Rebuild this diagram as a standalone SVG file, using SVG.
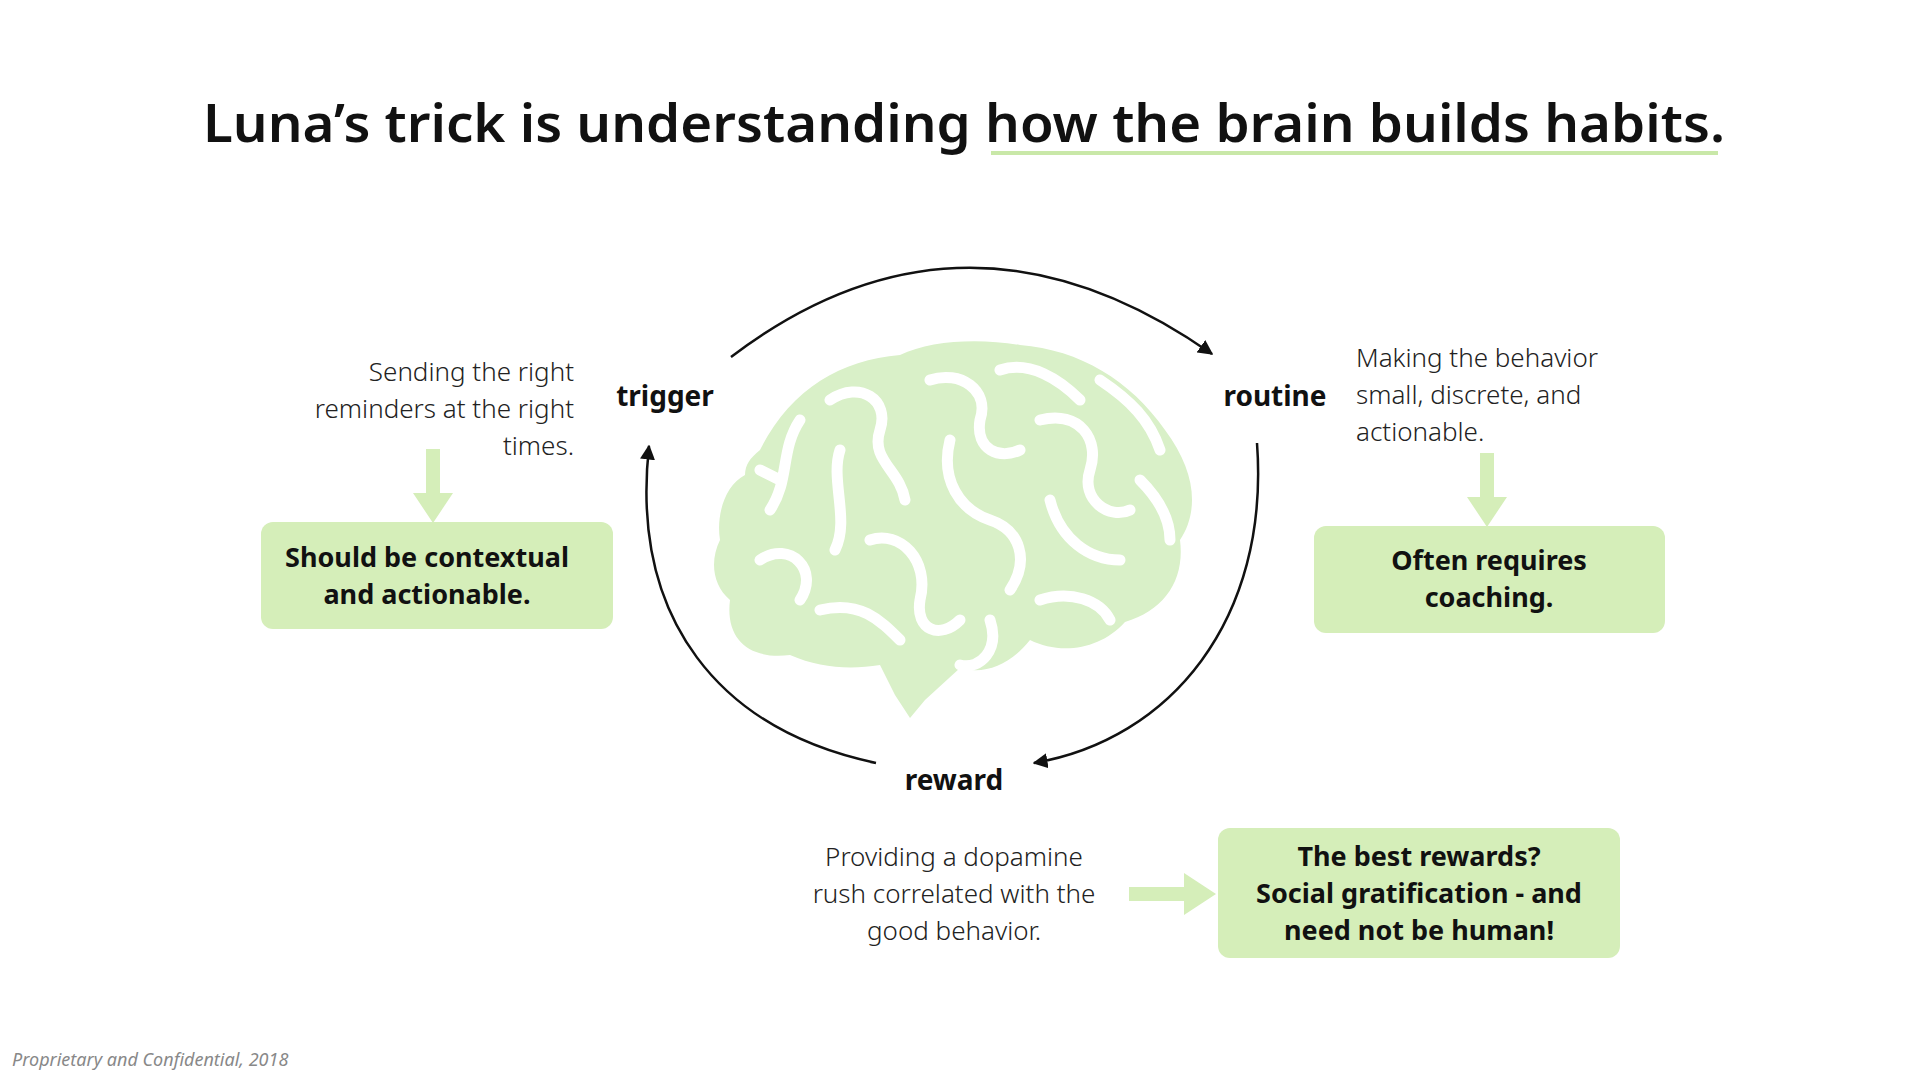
<svg xmlns="http://www.w3.org/2000/svg" width="1920" height="1080" viewBox="0 0 1920 1080">
<defs>
<style>
text{font-family:"Noto Sans","Open Sans",sans-serif;fill:#111}
.t{font-size:52px;font-weight:600;text-anchor:middle}
.lab{font-size:28px;font-weight:700;text-anchor:middle}
.body{font-size:26px;font-weight:300;fill:#222}
.box{fill:#d5eeb9}
.bt{font-size:27px;font-weight:700;text-anchor:middle}
.conn{fill:none;stroke:#111;stroke-width:2.5}
.garr{fill:#d5eeb9}
.vein{fill:none;stroke:#fff;stroke-width:11;stroke-linecap:round;stroke-linejoin:round}
</style>
<marker id="ah" viewBox="0 0 10 10" refX="9" refY="5" markerWidth="6" markerHeight="6" orient="auto"><path d="M0,0 L10,5 L0,10 z" fill="#111"/></marker>
</defs>
<rect width="1920" height="1080" fill="#fff"/>
<text class="t" x="964" y="142" textLength="1522" lengthAdjust="spacingAndGlyphs">Luna’s trick is understanding how the brain builds habits.</text>
<line x1="991" y1="153" x2="1718" y2="153" stroke="#c9e8a8" stroke-width="4"/>
<g id="brain">
<path d="M760,450 C790,390 840,360 900,355 C930,340 980,338 1020,345 C1080,350 1130,380 1165,430 C1195,470 1200,510 1180,540 C1185,580 1165,610 1125,622 C1100,650 1060,655 1030,640 C1010,665 985,675 960,668 L925,700 L910,718 L895,695 L880,665 C850,670 820,668 790,655 C750,660 725,640 730,600 C712,585 710,560 720,540 C716,515 725,485 745,475 C745,465 750,458 760,450 Z" fill="#d9f0c8"/>
<path class="vein" d="M800,420 C780,450 790,480 770,510 M830,400 C860,380 890,400 880,430 C870,460 900,470 905,500 M840,450 C830,480 850,520 835,550 M760,560 C790,540 820,570 800,600 M820,610 C860,600 880,620 900,640 M870,540 C900,530 930,560 920,600 C915,630 940,640 960,620 M930,380 C960,370 990,390 980,420 C975,450 1000,460 1020,450 M950,440 C940,480 960,510 990,520 C1020,530 1030,560 1010,590 M1000,370 C1030,360 1060,380 1080,400 M1040,420 C1080,410 1100,440 1090,470 C1080,500 1110,520 1130,510 M1100,380 C1130,400 1150,420 1160,450 M1050,500 C1060,540 1090,560 1120,560 M1040,600 C1070,590 1100,600 1110,620 M990,620 C1000,650 980,670 960,665 M780,480 L760,470 M1140,480 C1160,500 1170,520 1170,540"/>
</g>
<g id="connectors">
<path class="conn" d="M731,357 Q964,180 1212,354" marker-end="url(#ah)"/>
<path class="conn" d="M1257,443 C1270,620 1170,740 1034,763" marker-end="url(#ah)"/>
<path class="conn" d="M876,763 C720,730 630,620 649,446" marker-end="url(#ah)"/>
<path class="garr" d="M426,449 h14 v44 h13 l-20,30 l-20,-30 h13 z"/>
<path class="garr" d="M1480,453 h14 v44 h13 l-20,30 l-20,-30 h13 z"/>
<path class="garr" d="M1129,887 h55 v-14 l32,21 l-32,21 v-14 h-55 z"/>
</g>
<g id="trigger"><text class="lab" x="665" y="406">trigger</text></g>
<g id="routine"><text class="lab" x="1275" y="406">routine</text></g>
<g id="reward"><text class="lab" x="954" y="790">reward</text></g>
<g id="trigger-note"><text class="body" text-anchor="end"><tspan x="574" y="381">Sending the right</tspan><tspan x="574" y="418">reminders at the right</tspan><tspan x="574" y="455">times.</tspan></text></g>
<g id="routine-note"><text class="body"><tspan x="1356" y="367">Making the behavior</tspan><tspan x="1356" y="404">small, discrete, and</tspan><tspan x="1356" y="441">actionable.</tspan></text></g>
<g id="reward-note"><text class="body" text-anchor="middle"><tspan x="954" y="866">Providing a dopamine</tspan><tspan x="954" y="903">rush correlated with the</tspan><tspan x="954" y="940">good behavior.</tspan></text></g>
<g id="box-trigger"><rect class="box" x="261" y="522" width="352" height="107" rx="12"/><text class="bt"><tspan x="427" y="567">Should be contextual</tspan><tspan x="427" y="604">and actionable.</tspan></text></g>
<g id="box-routine"><rect class="box" x="1314" y="526" width="351" height="107" rx="12"/><text class="bt"><tspan x="1489" y="570">Often requires</tspan><tspan x="1489" y="607">coaching.</tspan></text></g>
<g id="box-reward"><rect class="box" x="1218" y="828" width="402" height="130" rx="12"/><text class="bt"><tspan x="1419" y="866">The best rewards?</tspan><tspan x="1419" y="903">Social gratification - and</tspan><tspan x="1419" y="940">need not be human!</tspan></text></g>
<text x="12" y="1066" style="font-size:18px;font-style:italic;fill:#888">Proprietary and Confidential, 2018</text>
</svg>
